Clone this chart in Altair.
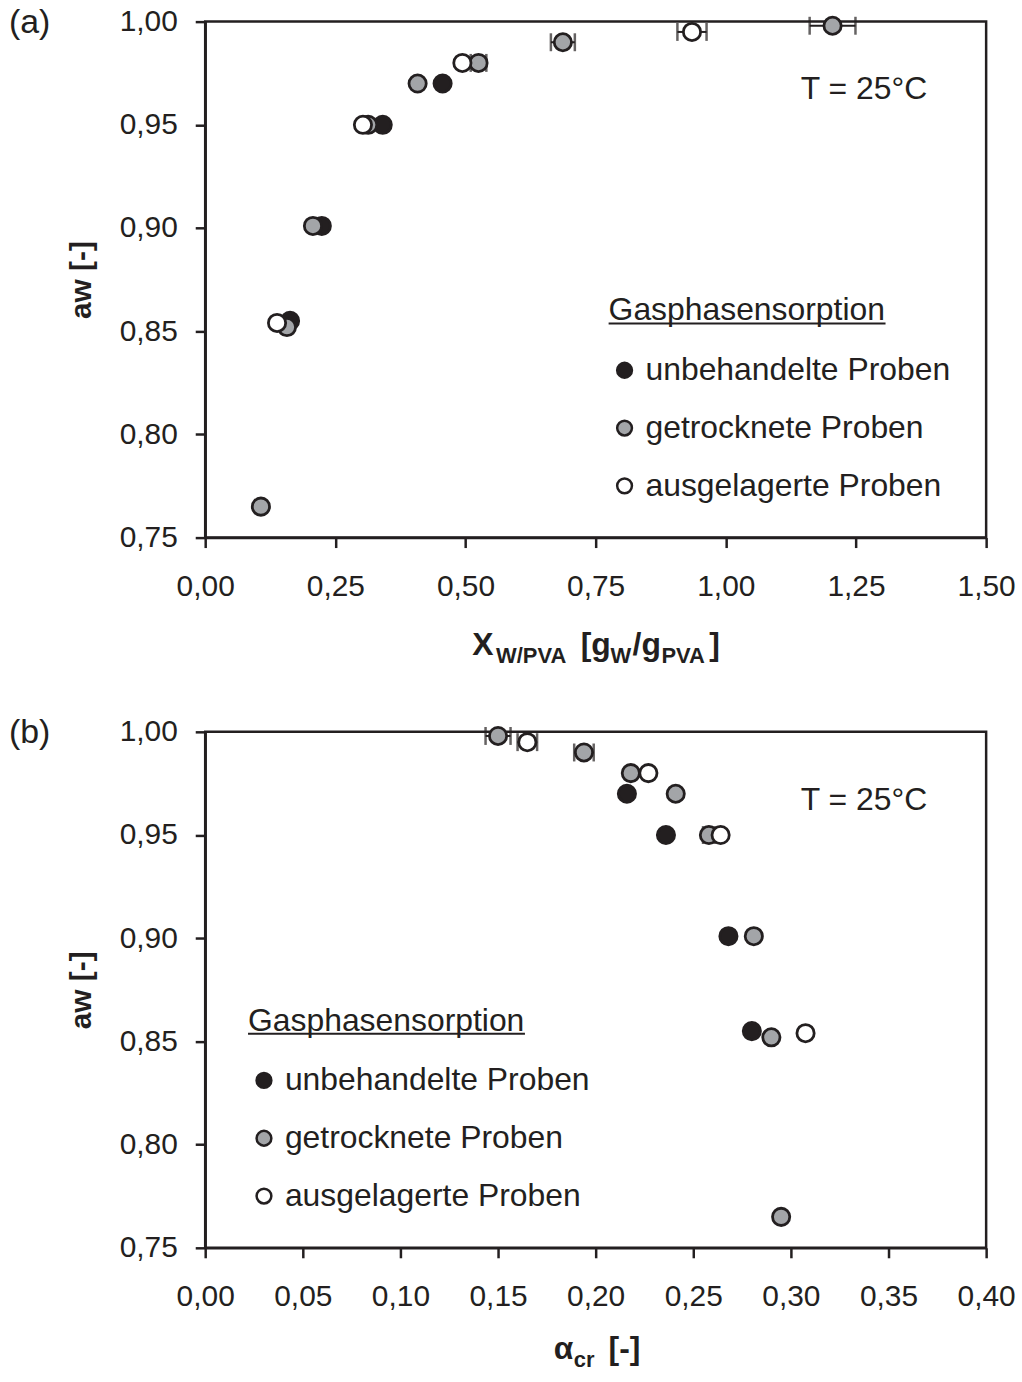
import altair as alt
import pandas as pd

DARK = "#231f20"
GRAY = "#a3a5a8"
WHITE = "#ffffff"
FONT = "Liberation Sans"

series_names = ["unbehandelte Proben", "getrocknete Proben", "ausgelagerte Proben"]
series_fill = [DARK, GRAY, WHITE]

# water activity levels per series (same in both panels)
unb_aw = [0.855, 0.901, 0.950, 0.970]
get_aw = [0.765, 0.852, 0.901, 0.950, 0.970, 0.980, 0.990, 0.998]
aus_aw = [0.854, 0.950, 0.980, 0.995]

# panel (a): X_W/PVA
a_unb_x = [0.163, 0.224, 0.341, 0.456]
a_unb_err = [0, 0, 0, 0]
a_get_x = [0.107, 0.157, 0.207, 0.313, 0.408, 0.525, 0.687, 1.205]
a_get_err = [0, 0, 0, 0, 0, 0.015, 0.023, 0.044]
a_aus_x = [0.138, 0.303, 0.494, 0.935]
a_aus_err = [0, 0, 0, 0.028]

# panel (b): alpha_cr
b_unb_x = [0.280, 0.268, 0.236, 0.216]
b_unb_err = [0, 0, 0, 0]
b_get_x = [0.295, 0.290, 0.281, 0.258, 0.241, 0.218, 0.194, 0.150]
b_get_err = [0, 0, 0, 0.003, 0, 0, 0.005, 0.0064]
b_aus_x = [0.3075, 0.264, 0.227, 0.165]
b_aus_err = [0, 0, 0, 0.005]

y_ticks = [0.75, 0.80, 0.85, 0.90, 0.95, 1.00]
a_x_ticks = [0.0, 0.25, 0.5, 0.75, 1.0, 1.25, 1.5]
b_x_ticks = [0.0, 0.05, 0.10, 0.15, 0.20, 0.25, 0.30, 0.35, 0.40]

W, H = 784, 518
LABEL_EXPR = "replace(format(datum.value, '.2f'), '.', ',')"


def build_df(xs, ys, errs):
    rows = []
    for name, x, y, e in zip(series_names, xs, ys, errs):
        for xi, yi, ei in zip(x, y, e):
            rows.append({"series": name, "x": xi, "y": yi,
                         "lo": xi - ei, "hi": xi + ei, "err": ei})
    return pd.DataFrame(rows)


def one():
    return pd.DataFrame({"k": [0]})


def text(t, x, y, size, weight="normal", align="left", baseline="alphabetic"):
    return alt.Chart(one()).mark_text(
        text=t, font=FONT, fontSize=size, fontWeight=weight, color=DARK,
        align=align, baseline=baseline
    ).encode(x=alt.value(x), y=alt.value(y))


def panel(df, xdomain, xticks, legend_x, tag, title_parts):
    xs = alt.Scale(domain=xdomain, nice=False, zero=False)
    ys = alt.Scale(domain=[0.75, 1.0], nice=False, zero=False)
    xaxis = alt.Axis(values=xticks, labelExpr=LABEL_EXPR, title=None)
    yaxis = alt.Axis(values=y_ticks, labelExpr=LABEL_EXPR, title="aw [-]",
                     titleFontSize=30, titleFontWeight="bold", titleFont=FONT,
                     titleColor=DARK, titlePadding=23)
    base = alt.Chart(df)
    err = df[df["err"] > 0]
    ebar = alt.Chart(err).mark_rule(color=DARK, strokeWidth=2).encode(
        x=alt.X("lo:Q", scale=xs, axis=xaxis),
        x2="hi:Q",
        y=alt.Y("y:Q", scale=ys, axis=yaxis),
    )
    caps_lo = alt.Chart(err).mark_tick(color=DARK, thickness=2.5, size=18, orient="vertical").encode(
        x=alt.X("lo:Q", scale=xs, axis=xaxis), y=alt.Y("y:Q", scale=ys, axis=yaxis))
    caps_hi = alt.Chart(err).mark_tick(color=DARK, thickness=2.5, size=18, orient="vertical").encode(
        x=alt.X("hi:Q", scale=xs, axis=xaxis), y=alt.Y("y:Q", scale=ys, axis=yaxis))
    pts = base.mark_point(filled=True, shape="circle", size=300, stroke=DARK,
                          strokeWidth=2.8, opacity=1).encode(
        x=alt.X("x:Q", scale=xs, axis=xaxis),
        y=alt.Y("y:Q", scale=ys, axis=yaxis),
        fill=alt.Fill("series:N", sort=series_names,
                      scale=alt.Scale(domain=series_names, range=series_fill),
                      legend=alt.Legend(
                          title="Gasphasensorption", orient="none",
                          legendX=legend_x, legendY=275, padding=0,
                          titleFont=FONT, titleFontSize=32, titleFontWeight="normal",
                          titleColor=DARK, titlePadding=27, titleLimit=600,
                          labelFont=FONT, labelFontSize=32, labelColor=DARK,
                          labelOffset=5, labelLimit=600,
                          symbolType="circle", symbolSize=220,
                          symbolStrokeColor=DARK, symbolStrokeWidth=2.5,
                          rowPadding=26)),
    )
    underline = alt.Chart(one()).mark_rule(color=DARK, strokeWidth=2).encode(
        x=alt.value(legend_x), x2=alt.value(legend_x + 278), y=alt.value(303))
    layers = [ebar, caps_lo, caps_hi, pts, underline,
              text("T = 25°C", 598, 78, 32),
              text(tag, -197, 1, 34, baseline="middle")]
    for t, x, y, s in title_parts:
        layers.append(text(t, x, y, s, weight="bold"))
    return alt.layer(*layers).properties(width=W, height=H)


df_a = build_df([a_unb_x, a_get_x, a_aus_x], [unb_aw, get_aw, aus_aw],
                [a_unb_err, a_get_err, a_aus_err])
df_b = build_df([b_unb_x, b_get_x, b_aus_x], [unb_aw, get_aw, aus_aw],
                [b_unb_err, b_get_err, b_aus_err])

title_a = [("X", 268, 636, 32), ("W/PVA", 292, 644, 22), ("[g", 377, 636, 32),
           ("W", 407, 644, 22), ("/g", 429, 636, 32), ("PVA", 458, 644, 22),
           ("]", 506, 636, 32)]
title_b = [("α", 350, 630, 32), ("cr", 370, 638, 22), ("[-]", 405, 630, 32)]

pa = panel(df_a, [0, 1.5], a_x_ticks, 405, "(a)", title_a)
pb = panel(df_b, [0, 0.4], b_x_ticks, 43, "(b)", title_b)

chart = alt.vconcat(pa, pb, spacing=45).resolve_scale(
    fill="independent"
).resolve_legend(
    fill="independent"
).properties(
    padding={"left": 7, "top": 1, "right": 5, "bottom": 5},
    background="white",
).configure_view(
    stroke=DARK, strokeWidth=2.5
).configure_axis(
    grid=False, domain=True, domainColor=DARK, domainWidth=2.5,
    ticks=True, tickColor=DARK, tickWidth=2.5, tickSize=10,
    labelFont=FONT, labelFontSize=30, labelColor=DARK,
    labelFlush=False, labelOverlap=False,
).configure_axisX(labelPadding=24).configure_axisY(labelPadding=18)

chart.save("out.html", embed_options={"renderer": "svg", "actions": False})
